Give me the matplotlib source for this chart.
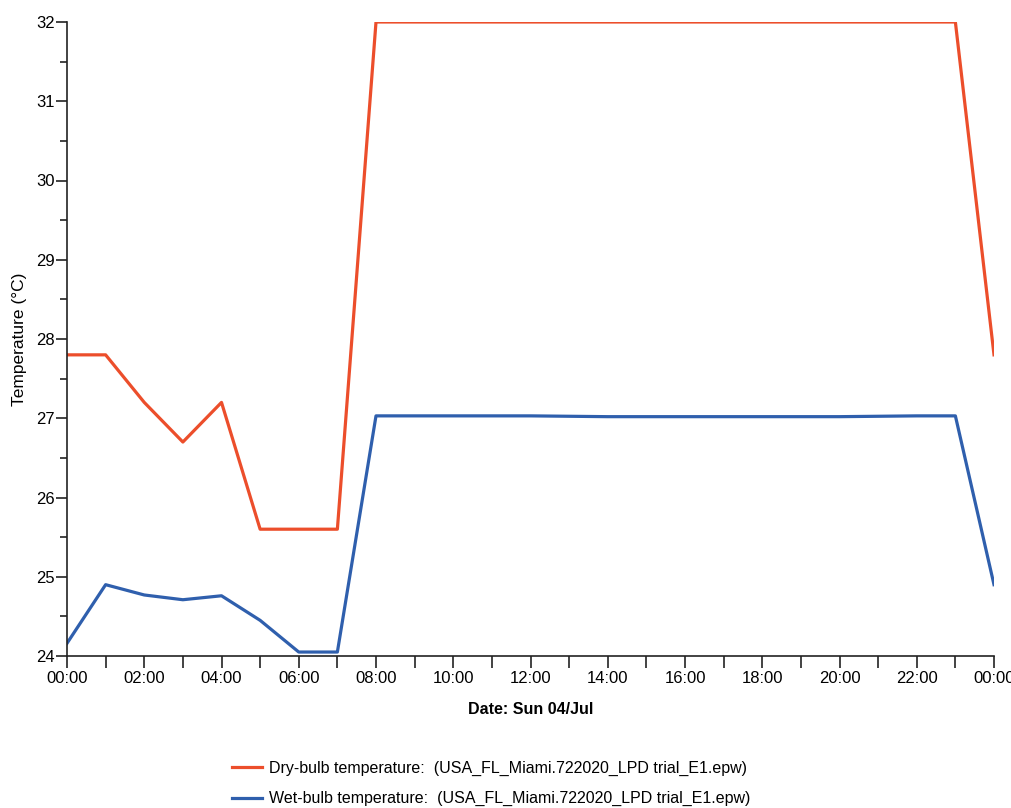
import matplotlib.pyplot as plt
from matplotlib.ticker import MultipleLocator, FuncFormatter

plt.rcParams['font.family'] = ['Liberation Sans', 'DejaVu Sans']

# hours of the day (0 .. 24)
hours = list(range(25))
dry_bulb = [27.8, 27.8, 27.2, 26.7, 27.2, 25.6, 25.6, 25.6,
            32.0, 32.0, 32.0, 32.0, 32.0, 32.0, 32.0, 32.0,
            32.0, 32.0, 32.0, 32.0, 32.0, 32.0, 32.0, 32.0, 27.8]
wet_bulb = [24.16, 24.9, 24.77, 24.71, 24.76, 24.45, 24.05, 24.05,
            27.03, 27.03, 27.03, 27.03, 27.03, 27.025, 27.02, 27.02,
            27.02, 27.02, 27.02, 27.02, 27.02, 27.025, 27.03, 27.03, 24.9]
series_labels = ['Dry-bulb temperature:  (USA_FL_Miami.722020_LPD trial_E1.epw)',
                 'Wet-bulb temperature:  (USA_FL_Miami.722020_LPD trial_E1.epw)']

fig = plt.figure(figsize=(10.12, 8.08), dpi=100)
ax = fig.add_axes([67/1012, 1 - 656/808, (994 - 67)/1012, (656 - 22)/808])

ax.plot(hours, dry_bulb, color='#ec4e2b', lw=2.3, label=series_labels[0])
ax.plot(hours, wet_bulb, color='#2f5fad', lw=2.3, label=series_labels[1])

ax.set_xlim(0, 24)
ax.set_ylim(24, 32)
ax.spines['top'].set_visible(False)
ax.spines['right'].set_visible(False)
for s in ('left', 'bottom'):
    ax.spines[s].set_color('#222222')
    ax.spines[s].set_linewidth(1.2)

ax.xaxis.set_major_locator(MultipleLocator(2))
ax.xaxis.set_minor_locator(MultipleLocator(1))
ax.xaxis.set_major_formatter(FuncFormatter(lambda v, p: '%02d:00' % (int(v) % 24)))
ax.yaxis.set_major_locator(MultipleLocator(1))
ax.yaxis.set_minor_locator(MultipleLocator(0.5))

ax.tick_params(axis='x', which='both', direction='out', length=8.5, width=1.2,
               color='#222222', labelsize=12, pad=2)
ax.tick_params(axis='y', which='major', direction='out', length=8, width=1.2,
               color='#222222', labelsize=12, pad=1)
ax.tick_params(axis='y', which='minor', direction='out', length=5, width=1.2,
               color='#222222')

ax.set_ylabel('Temperature (°C)', fontsize=12.5, labelpad=6)
ax.set_xlabel('Date: Sun 04/Jul', fontsize=11.5, fontweight='bold', labelpad=12)

fig.legend(loc='upper left', bbox_to_anchor=(219/1012, 1 - 748/808), frameon=False,
           fontsize=11.5, handlelength=1.9, handletextpad=0.4, labelspacing=0.95,
           borderpad=0.3)

fig.savefig('out.png', dpi=100)
